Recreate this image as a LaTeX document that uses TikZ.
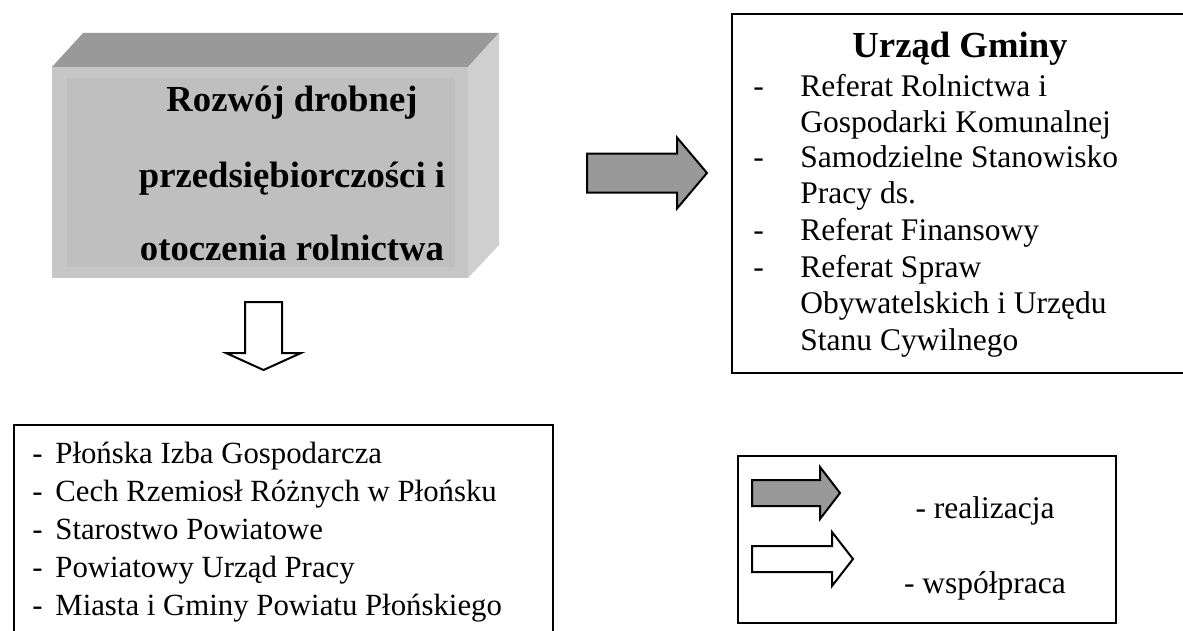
\documentclass[tikz,border=0pt]{standalone}
\usepackage{fontspec}
\setmainfont{Liberation Serif}
\definecolor{cubetop}{HTML}{999999}
\definecolor{cubeside}{HTML}{CFCFCF}
\definecolor{cubefront}{HTML}{C6C6C6}
\definecolor{cubeinner}{HTML}{BFBFBF}
\definecolor{arrowgray}{HTML}{999999}
\tikzset{
  txt/.style={font=\fontsize{15.75pt}{18pt}\selectfont, inner sep=0pt, anchor=base west},
  txtb/.style={font=\fontsize{15.4pt}{18pt}\selectfont, inner sep=0pt, anchor=base west},
  legtxt/.style={font=\fontsize{15.75pt}{18pt}\selectfont, inner sep=0pt, anchor=base},
  ttl/.style={font=\fontsize{18.35pt}{21pt}\selectfont\bfseries, inner sep=0pt, anchor=base},
  frame/.style={draw=black, line width=1pt, fill=white, anchor=north west, inner sep=0pt},
  grayarrow/.style={draw=black, line width=1pt, fill=arrowgray, line join=miter},
  whitearrow/.style={draw=black, line width=1pt, fill=white, line join=miter},
}
\begin{document}
\begin{tikzpicture}[x=0.5pt,y=-0.5pt]
\useasboundingbox (0,0) rectangle (1183,631);

% ---- 3D cube ----
\fill[cubetop] (52,67) -- (83,33) -- (499,33) -- (468,67) -- cycle;
\fill[cubeside] (468,67) -- (499,33) -- (499,245) -- (468,278) -- cycle;
\node[fill=cubefront, anchor=north west, inner sep=0pt, minimum width=208pt, minimum height=105.5pt] (cube) at (52,67) {};
\fill[cubeinner] (67,78) rectangle (455,267);
\node[ttl] (c1) at (292,112) {Rozwój drobnej};
\node[ttl] (c2) at (292,187) {przedsiębiorczości i};
\node[ttl] (c3) at (292,260) {otoczenia rolnictwa};

% ---- Urzad Gminy box ----
\node[frame, minimum width=229pt, minimum height=179.5pt] (urzad) at (731,13) {};
\node[ttl] (ut) at (960,58) {Urząd Gminy};
\node[txt] (u1) at (753,97)  {\makebox[23.5pt][l]{-}Referat Rolnictwa i};
\node[txt] (u2) at (800,133) {Gospodarki Komunalnej};
\node[txt] (u3) at (753,168) {\makebox[23.5pt][l]{-}Samodzielne Stanowisko};
\node[txt] (u4) at (800,203) {Pracy ds.};
\node[txt] (u5) at (753,240) {\makebox[23.5pt][l]{-}Referat Finansowy};
\node[txt] (u6) at (753,277) {\makebox[23.5pt][l]{-}Referat Spraw};
\node[txt] (u7) at (800,313) {Obywatelskich i Urzędu};
\node[txt] (u8) at (800,350) {Stanu Cywilnego};

% ---- bottom-left box ----
\node[frame, minimum width=269.75pt, minimum height=118pt] (partners) at (12.5,424) {};
\node[txtb] (p1) at (32,463) {\makebox[11.5pt][l]{-}Płońska Izba Gospodarcza};
\node[txtb] (p2) at (32,501) {\makebox[11.5pt][l]{-}Cech Rzemiosł Różnych w Płońsku};
\node[txtb] (p3) at (32,539) {\makebox[11.5pt][l]{-}Starostwo Powiatowe};
\node[txtb] (p4) at (32,577) {\makebox[11.5pt][l]{-}Powiatowy Urząd Pracy};
\node[txtb] (p5) at (32,615) {\makebox[11.5pt][l]{-}Miasta i Gminy Powiatu Płońskiego};

% ---- legend box ----
\node[frame, minimum width=189pt, minimum height=83.5pt] (legend) at (737,455) {};
\node[legtxt] (l1) at (985,518) {- realizacja};
\node[legtxt] (l2) at (985,593) {- współpraca};

% ---- block arrows ----
% main gray arrow (realizacja)
\draw[grayarrow] (587,153.5) -- (677,153.5) -- (677,137.5) -- (707,173) -- (677,208.5) -- (677,192.5) -- (587,192.5) -- cycle;
% down white arrow (wspolpraca)
\draw[whitearrow] (245,302) -- (282,302) -- (282,353) -- (301,353) -- (263.5,370) -- (226,353) -- (245,353) -- cycle;
% legend arrows
\draw[grayarrow] (752,480) -- (820,480) -- (820,467) -- (840,493) -- (820,519) -- (820,506) -- (752,506) -- cycle;
\draw[whitearrow] (752,546) -- (832,546) -- (832,532) -- (853,559) -- (832,586) -- (832,572) -- (752,572) -- cycle;
\end{tikzpicture}
\end{document}
